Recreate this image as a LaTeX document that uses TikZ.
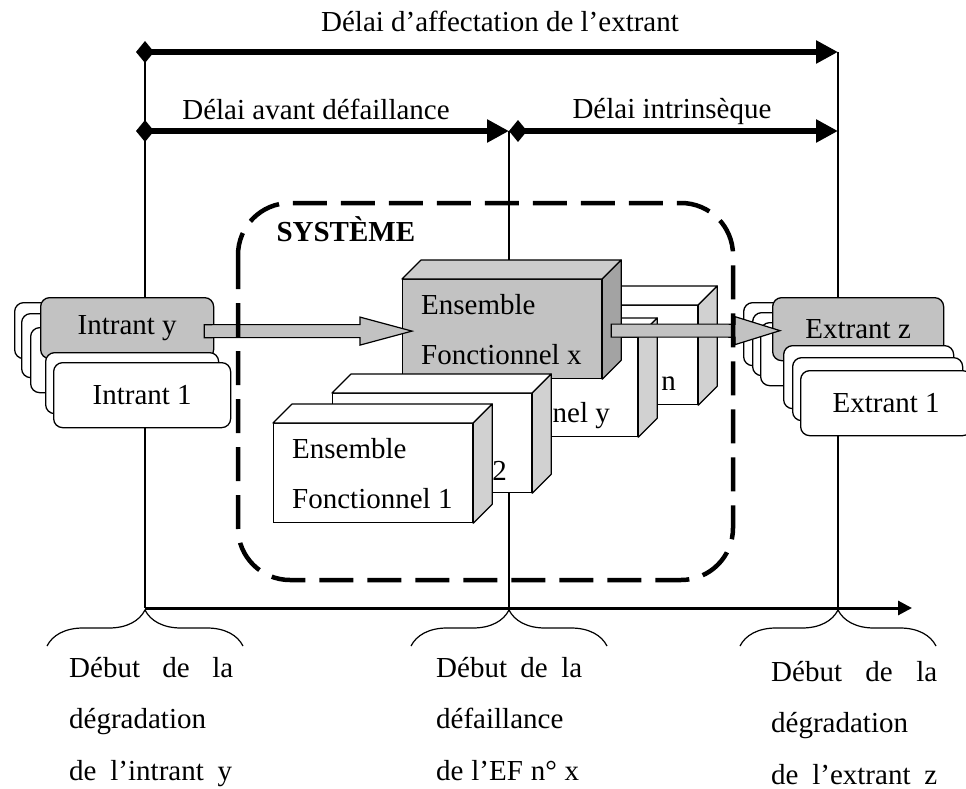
\documentclass[tikz,border=0pt]{standalone}
\usepackage{fontspec}
\setmainfont{Liberation Serif}
\usetikzlibrary{positioning,arrows.meta,calc,decorations.pathreplacing}

\definecolor{efgray}{gray}{0.76}
\definecolor{eftopgray}{gray}{0.80}
\definecolor{efsidegray}{gray}{0.64}
\definecolor{efwhiteside}{gray}{0.82}

% one functional set drawn as a 3D block: name, front NW corner, front/top/side fills
\newcommand\efbloc[5]{%
  \node[efface, fill=#3] (#1) at (#2) {};
  \draw[efedge, fill=#4] (#1.north west) -- ++(19,-19) -- ([shift={(19,-19)}]#1.north east) -- (#1.north east) -- cycle;
  \draw[efedge, fill=#5] (#1.north east) -- ++(19,-19) -- ([shift={(19,-19)}]#1.south east) -- (#1.south east) -- cycle;
}
% wide outlined arrow between two coordinates, #3 = head length
\newcommand\blocarrow[3]{%
  \draw[blkarrow] ($(#1)+(0,-6.5)$) -- ($(#2)+(-#3,-6.5)$) -- ($(#2)+(-#3,-14)$) -- (#2)
    -- ($(#2)+(-#3,14)$) -- ($(#2)+(-#3,6.5)$) -- ($(#1)+(0,6.5)$) -- cycle;
}

\begin{document}
\begin{tikzpicture}[
    x=1pt, y=-1pt,
    font=\fontsize{29}{35}\selectfont,
    vline/.style={line width=1.1pt},
    delay/.style={line width=6pt, {Diamond[length=18pt,width=22pt]}-{Triangle[length=22pt,width=22pt]}},
    timeline/.style={line width=3pt, -{Triangle[length=14pt,width=14pt]}},
    tbrace/.style={decorate, decoration={brace, amplitude=36pt}, line width=1.2pt},
    note/.style={anchor=base west, align=left, inner sep=0pt, font=\fontsize{29}{51.5}\selectfont},
    card/.style={draw, line width=1.3pt, rounded corners=9pt, anchor=north west, fill=white,
      minimum width=173pt, minimum height=63pt, inner sep=0pt},
    efface/.style={draw, line width=1.2pt, anchor=north west, minimum width=199pt, minimum height=99pt, inner sep=0pt},
    efedge/.style={draw, line width=1.2pt, line join=round},
    eftext/.style={anchor=base west, align=left, inner sep=0pt, font=\fontsize{29}{50}\selectfont},
    efpart/.style={anchor=base east, inner sep=0pt},
    blkarrow/.style={draw, line width=1.2pt, fill=efgray, line join=miter},
    sysframe/.style={line width=4.5pt, dash pattern=on 34pt off 14pt, rounded corners=52pt},
  ]
  \path[use as bounding box, fill=white] (0,0) rectangle (966,789);

  % time marks
  \coordinate (vL) at (145,52);
  \coordinate (vR) at (838,52);
  \coordinate (vL2) at (145,131);
  \coordinate (vM) at (509,131);
  \coordinate (vR2) at (838,131);
  \coordinate (bL) at (145,608);
  \coordinate (bM) at (509,608);
  \coordinate (bR) at (838,608);
  \coordinate (bEnd) at (912,608);
  \draw[vline] (vL) -- (bL);
  \draw[vline] (vM) -- (bM);
  \draw[vline] (vR) -- (bR);

  % delays
  \draw[delay] ([xshift=-9pt]vL) -- (vR);
  \draw[delay] ([xshift=-9pt]vL2) -- (vM);
  \draw[delay] (vM) -- (vR2);
  \node[anchor=base] (tAff) at (500,32) {Délai d’affectation de l’extrant};
  \node[anchor=base] (tAvant) at (316,120) {Délai avant défaillance};
  \node[anchor=base] (tIntr) at (672,119) {Délai intrinsèque};

  % time axis and events
  \draw[timeline] (bL) -- (bEnd);
  \draw[tbrace] ($(bL)+(-98,38)$) -- ($(bL)+(98,38)$);
  \draw[tbrace] ($(bM)+(-98,38)$) -- ($(bM)+(98,38)$);
  \draw[tbrace] ($(bR)+(-98,38)$) -- ($(bR)+(98,38)$);
  \node[note] (nIntrant) at (69,780) {\makebox[164pt][s]{Début de la}\\dégradation\\\makebox[163pt][s]{de l’intrant y}};
  \node[note] (nEF) at (436,780) {\makebox[146pt][s]{Début de la}\\défaillance\\\makebox[143pt][s]{de l’EF n° x}};
  \node[note] (nExtrant) at (771,784) {\makebox[166pt][s]{Début de la}\\dégradation\\\makebox[166pt][s]{de l’extrant z}};

  % inputs
  \foreach \px/\py/\h [count=\i] in {14/302/56, 21/313/64, 30/327/65}
    \node[card, minimum height=\h pt] (inB\i) at (\px,\py) {};
  \node[card, fill=efgray, minimum height=61pt] (iny) at (40,297) {Intrant y};
  \node[card, minimum height=61pt] (inW) at (45,352) {};
  \node[card, minimum width=177pt, minimum height=65pt] (in1) at (53,362) {Intrant 1};

  % outputs
  \foreach \px/\py [count=\i] in {743/302, 752/312, 760/322}
    \node[card, minimum width=171pt] (exB\i) at (\px,\py) {};
  \node[card, fill=efgray, minimum width=171pt] (extz) at (772,297) {Extrant z};
  \node[card, minimum width=170pt] (exW1) at (783,345) {};
  \node[card, minimum width=170pt] (exW2) at (792,357) {};
  \node[card, minimum width=171pt, minimum height=65pt] (ext1) at (800,370) {Extrant 1};

  % functional sets, back to front
  \efbloc{efn}{498,305}{white}{white}{efwhiteside}
  \node[efpart] (efnLbl) at ([shift={(178,85)}]efn.north west) {n};
  \efbloc{efy}{438,337}{white}{white}{efwhiteside}
  \node[efpart] (efyLbl) at ([shift={(172,85)}]efy.north west) {nnel y};
  \efbloc{efx}{402,279}{efgray}{eftopgray}{efsidegray}
  \node[eftext] (efxLbl) at ([shift={(19,85)}]efx.north west) {Ensemble\\Fonctionnel x};
  \efbloc{ef2}{332,393}{white}{white}{efwhiteside}
  \node[efpart] (ef2Lbl) at ([shift={(175,87)}]ef2.north west) {2};
  \efbloc{ef1}{273,423}{white}{white}{efwhiteside}
  \node[eftext] (ef1Lbl) at ([shift={(19,85)}]ef1.north west) {Ensemble\\Fonctionnel 1};

  % flows
  \coordinate (arrInS) at ($(iny.east)+(-10,3)$);
  \coordinate (arrInE) at ($(efx.west)+(10,2)$);
  \coordinate (arrOutS) at ($(efx.east)+(9,1.5)$);
  \coordinate (arrOutE) at ($(extz.west)+(8,1.5)$);
  \blocarrow{arrInS}{arrInE}{52}
  \blocarrow{arrOutS}{arrOutE}{45}

  % system boundary
  \draw[sysframe] (238,203) rectangle (733,580);
  \node[font=\fontsize{29}{35}\selectfont\bfseries, anchor=west] (sys) at (273,229) {SYSTÈME};
\end{tikzpicture}
\end{document}
